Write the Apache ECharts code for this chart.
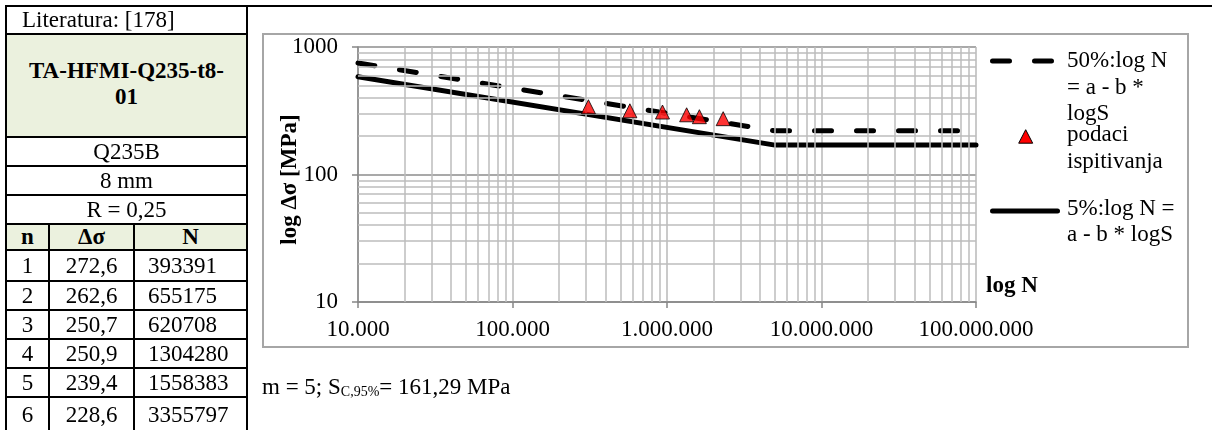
<!DOCTYPE html>
<html><head><meta charset="utf-8">
<script src="https://cdn.jsdelivr.net/npm/echarts@6/dist/echarts.min.js"></script>
<style>
html,body{margin:0;padding:0;background:#fff;}
#wrap{position:relative;width:1212px;height:430px;overflow:hidden;font-family:'Liberation Serif','Times New Roman',serif;}
#chart{position:absolute;left:0;top:0;width:1212px;height:430px;}
#tbl{position:absolute;left:0;top:0;width:1212px;height:430px;pointer-events:none;}
.cell{position:absolute;display:flex;align-items:center;font-size:23px;color:#000;box-sizing:border-box;white-space:nowrap;line-height:26px;font-family:'Liberation Serif','Times New Roman',serif;}
.ln{position:absolute;background:#000;}
</style></head><body>
<div id="wrap"><div id="chart"></div><div id="tbl"></div></div>
<script>
// ---------- table text ----------
const refLabel = 'Literatura: [178]';
const specimenTitle = ['TA-HFMI-Q235-t8-', '01'];
const material = 'Q235B';
const thickness = '8 mm';
const ratioLabel = 'R = 0,25';
const tableHead = ['n', 'Δσ', 'N'];
const tableIdx = ['1', '2', '3', '4', '5', '6'];
const tableStress = ['272,6', '262,6', '250,7', '250,9', '239,4', '228,6'];
const tableCycles = ['393391', '655175', '620708', '1304280', '1558383', '3355797'];

// ---------- chart data ----------
const testN = [310000, 575000, 935000, 1340000, 1620000, 2310000];
const testS = [340, 316, 309, 294, 284, 274];
const curve50N = [10000, 5000000, 100000000];
const curve50S = [750, 220, 220];
const curve5N = [10000, 5000000, 100000000];
const curve5S = [585, 170, 170];
const xTickValues = [10000, 100000, 1000000, 10000000, 100000000];
const xTickLabels = ['10.000', '100.000', '1.000.000', '10.000.000', '100.000.000'];
const yTickValues = [10, 100, 1000];
const yTickLabels = ['10', '100', '1000'];
const legend50 = '50%:log N\n= a - b *\nlogS';
const legendData = 'podaci\nispitivanja';
const legend5 = '5%:log N =\na - b * logS';
const xName = 'log N';
const yName = 'log Δσ [MPa]';
const footerMain1 = 'm = 5; S';
const footerSub = 'C,95%';
const footerMain2 = '= 161,29 MPa';

// ---------- build table ----------
(function () {
  const t = document.getElementById('tbl');
  const rowY = [6, 34, 137, 166, 195, 224, 250, 281, 310, 339, 368, 397, 432];
  const L = 6, R = 247, C1 = 49, C2 = 134;
  const green = '#ebf1de';
  function cell(x0, x1, y0, y1, html, opts) {
    opts = opts || {};
    const d = document.createElement('div');
    d.className = 'cell';
    d.style.left = x0 + 'px'; d.style.top = y0 + 'px';
    d.style.width = (x1 - x0) + 'px'; d.style.height = (y1 - y0) + 'px';
    d.style.justifyContent = opts.align || 'center';
    d.style.textAlign = opts.align === 'flex-start' ? 'left' : 'center';
    if (opts.pad) d.style.paddingLeft = opts.pad + 'px';
    if (opts.bg) d.style.background = opts.bg;
    if (opts.bold) d.style.fontWeight = 'bold';
    d.innerHTML = html;
    t.appendChild(d);
  }
  function line(x, y, w, h) {
    const d = document.createElement('div');
    d.className = 'ln';
    d.style.left = x + 'px'; d.style.top = y + 'px';
    d.style.width = w + 'px'; d.style.height = h + 'px';
    t.appendChild(d);
  }
  cell(L, R, rowY[0], rowY[1], refLabel, { align: 'flex-start', pad: 16 });
  cell(L, R, rowY[1], rowY[2], '<div style="padding-bottom:4px">' + specimenTitle.join('<br>') + '</div>', { bg: green, bold: true });
  cell(L, R, rowY[2], rowY[3], material);
  cell(L, R, rowY[3], rowY[4], thickness);
  cell(L, R, rowY[4], rowY[5], ratioLabel);
  cell(L, C1, rowY[5], rowY[6], tableHead[0], { bg: green, bold: true });
  cell(C1, C2, rowY[5], rowY[6], tableHead[1], { bg: green, bold: true });
  cell(C2, R, rowY[5], rowY[6], tableHead[2], { bg: green, bold: true });
  for (let i = 0; i < tableIdx.length; i++) {
    const y0 = rowY[6 + i], y1 = rowY[7 + i];
    cell(L, C1, y0, y1, tableIdx[i]);
    cell(C1, C2, y0, y1, tableStress[i]);
    cell(C2, R, y0, y1, tableCycles[i], { align: 'flex-start', pad: 14 });
  }
  // lines
  line(L - 1, rowY[0] - 1, 1212 - L + 1, 2);
  for (let i = 1; i < rowY.length - 1; i++) line(L - 1, rowY[i] - 1, R - L + 2, 2);
  line(L - 1, rowY[0] - 1, 2, 440);
  line(R - 1, rowY[0] - 1, 2, 440);
  line(C1 - 1, rowY[5] - 1, 2, 440);
  line(C2 - 1, rowY[5] - 1, 2, 440);
})();

// ---------- chart ----------
const serif = "'Liberation Serif','Times New Roman',serif";
const chart = echarts.init(document.getElementById('chart'), null, { renderer: 'canvas' });

// minor log grid positions (2..9 within each decade)
const minorX = [];
for (let i = 0; i < xTickValues.length - 1; i++) for (let k = 2; k <= 9; k++) minorX.push(xTickValues[i] * k);
const minorY = [];
for (let i = 0; i < yTickValues.length - 1; i++) for (let k = 2; k <= 9; k++) minorY.push(yTickValues[i] * k);

function lookup(vals, labels, v) {
  for (let i = 0; i < vals.length; i++) if (Math.abs(Math.log10(v) - Math.log10(vals[i])) < 1e-6) return labels[i];
  return '';
}

const option = {
  animation: false,
  textStyle: { fontFamily: serif },
  grid: { left: 358, top: 47, width: 618, height: 255, containLabel: false },
  xAxis: {
    type: 'log', logBase: 10, min: 10000, max: 100000000,
    name: xName, nameLocation: 'end', nameGap: 10, nameMoveOverlap: false,
    nameTextStyle: { fontFamily: serif, fontSize: 23, fontWeight: 'bold', color: '#000', verticalAlign: 'bottom', padding: [0, 0, 4, 0] },
    axisLine: { show: true, lineStyle: { color: '#868686', width: 1.5 } },
    axisTick: { show: true, length: 6, lineStyle: { color: '#868686', width: 1.5 } },
    axisLabel: { fontFamily: serif, fontSize: 23, color: '#000', margin: 16, formatter: v => lookup(xTickValues, xTickLabels, v) },
    splitLine: { show: true, lineStyle: { color: '#b8b8b8', width: 1.5 } },
    minorTick: { show: false }, minorSplitLine: { show: false }
  },
  yAxis: {
    type: 'log', logBase: 10, min: 10, max: 1000,
    name: yName, nameLocation: 'middle', nameGap: 56, nameRotate: 90, nameMoveOverlap: false,
    nameTextStyle: { fontFamily: serif, fontSize: 23, fontWeight: 'bold', color: '#000', padding: [0, 10, 0, 0] },
    axisLine: { show: true, lineStyle: { color: '#868686', width: 1.5 } },
    axisTick: { show: true, length: 6, lineStyle: { color: '#868686', width: 1.5 } },
    axisLabel: { fontFamily: serif, fontSize: 23, color: '#000', margin: 20, formatter: v => lookup(yTickValues, yTickLabels, v) },
    splitLine: { show: true, lineStyle: { color: '#8c8c8c', width: 1.5 } },
    minorTick: { show: false }, minorSplitLine: { show: false }
  },
  series: [
    {
      type: 'line', name: 'grid', data: [], z: 1, silent: true,
      markLine: {
        silent: true, symbol: ['none', 'none'], label: { show: false }, animation: false,
        lineStyle: { color: '#bdbdbd', width: 1.5, type: 'solid' },
        emphasis: { disabled: true },
        data: minorX.map(v => ({ xAxis: v })).concat(minorY.map(v => ({ yAxis: v })))
      }
    },
    {
      type: 'line', name: '50%:log N = a - b * logS', z: 3, symbol: 'none', silent: true,
      data: curve50N.map((n, i) => [n, curve50S[i]]),
      lineStyle: { color: '#000', width: 5, type: [17, 25], cap: 'round', join: 'round' }
    },
    {
      type: 'line', name: '5%:log N = a - b * logS', z: 3, symbol: 'none', silent: true,
      data: curve5N.map((n, i) => [n, curve5S[i]]),
      lineStyle: { color: '#000', width: 5, type: 'solid', cap: 'round', join: 'round' }
    },
    {
      type: 'scatter', name: 'podaci ispitivanja', z: 5, symbol: 'triangle', symbolSize: 14, silent: true,
      data: testN.map((n, i) => [n, testS[i]]),
      itemStyle: { color: '#ff0000', borderColor: '#000', borderWidth: 1 }
    }
  ],
  graphic: [
    { type: 'rect', silent: true, z: -1, shape: { x: 263, y: 34, width: 925, height: 313 }, style: { fill: 'none', stroke: '#a6a6a6', lineWidth: 2 } },
    // legend
    { type: 'line', silent: true, shape: { x1: 992.5, y1: 61, x2: 1051.5, y2: 61 }, style: { stroke: '#000', lineWidth: 5, lineDash: [17, 25], lineCap: 'round' } },
    { type: 'text', silent: true, x: 1067, y: 48, style: { text: legend50, fill: '#000', fontFamily: serif, fontSize: 23, lineHeight: 26.5, align: 'left', textAlign: 'left', verticalAlign: 'top', textVerticalAlign: 'top' } },
    { type: 'polygon', silent: true, shape: { points: [[1025.7, 129.7], [1032.7, 143.2], [1018.7, 143.2]] }, style: { fill: '#ff0000', stroke: '#000', lineWidth: 1 } },
    { type: 'text', silent: true, x: 1067, y: 122, style: { text: legendData, fill: '#000', fontFamily: serif, fontSize: 23, lineHeight: 26.5, align: 'left', textAlign: 'left', verticalAlign: 'top', textVerticalAlign: 'top' } },
    { type: 'line', silent: true, shape: { x1: 992.5, y1: 211, x2: 1057.5, y2: 211 }, style: { stroke: '#000', lineWidth: 5, lineCap: 'round' } },
    { type: 'text', silent: true, x: 1067, y: 195.5, style: { text: legend5, fill: '#000', fontFamily: serif, fontSize: 23, lineHeight: 26.5, align: 'left', textAlign: 'left', verticalAlign: 'top', textVerticalAlign: 'top' } },
    // footer
    {
      type: 'text', silent: true, x: 262, y: 388,
      style: {
        text: '{a|' + footerMain1 + '}{b|' + footerSub + '}{a|' + footerMain2 + '}',
        fill: '#000', fontFamily: serif, align: 'left', textAlign: 'left', verticalAlign: 'middle', textVerticalAlign: 'middle',
        rich: {
          a: { fontFamily: serif, fontSize: 23, fill: '#000', color: '#000', lineHeight: 23 },
          b: { fontFamily: serif, fontSize: 14, fill: '#000', color: '#000', verticalAlign: 'bottom', lineHeight: 16 }
        }
      }
    }
  ]
};
chart.setOption(option);
</script>
</body></html>
